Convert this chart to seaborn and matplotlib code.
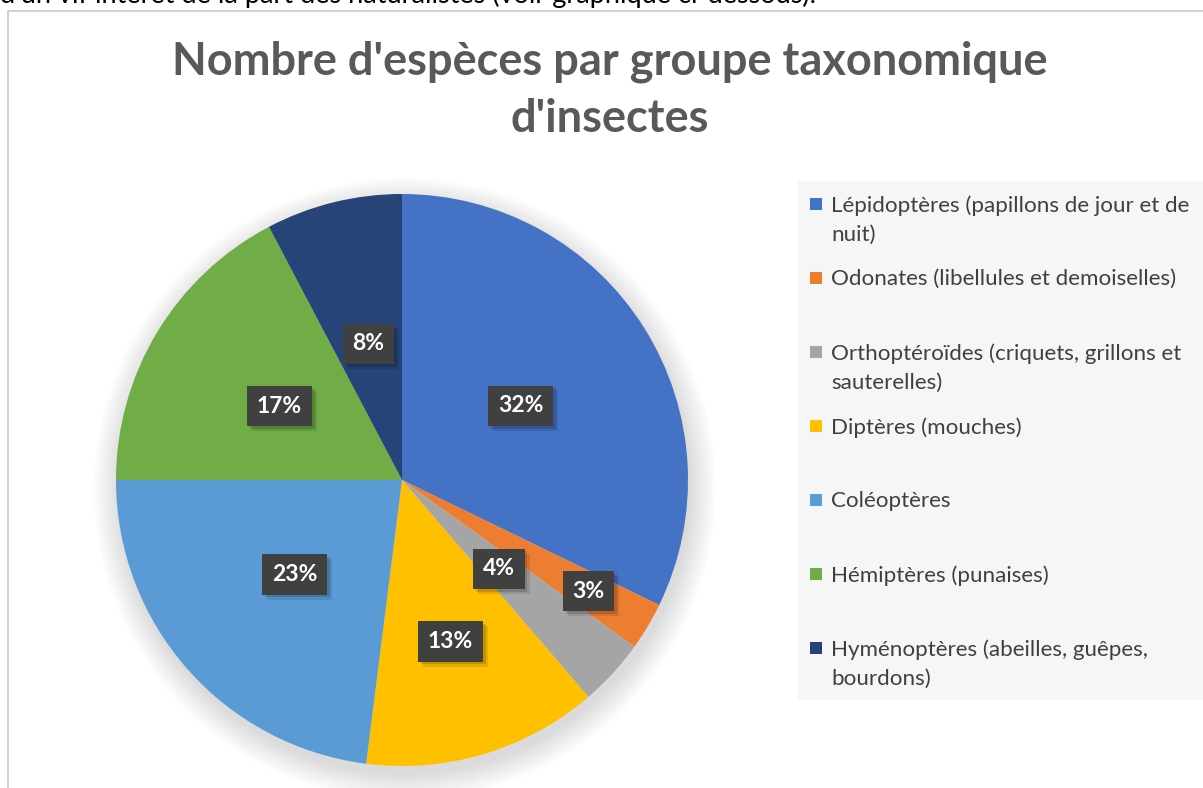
import matplotlib
matplotlib.use("Agg")
import matplotlib.pyplot as plt
import matplotlib.patheffects as pe
from matplotlib.patches import Rectangle, Circle
import seaborn as sns
import numpy as np

# values (percent of species)
groups = ["Lépidoptères (papillons de jour et de\nnuit)",
          "Odonates (libellules et demoiselles)",
          "Orthoptéroïdes (criquets, grillons et\nsauterelles)",
          "Diptères (mouches)",
          "Coléoptères",
          "Hémiptères (punaises)",
          "Hyménoptères (abeilles, guêpes,\nbourdons)"]
shares = [32.2, 2.7, 3.8, 13.3, 23.0, 17.3, 7.7]
pct_labels = ["32%", "3%", "4%", "13%", "23%", "17%", "8%"]
label_dist = [0.49, 0.76, 0.46, 0.59, 0.50, 0.50, 0.49]
colors = ["#4472C4", "#ED7D31", "#A5A5A5", "#FFC000", "#5B9BD5", "#70AD47", "#264478"]

sns.set_theme(style="white")
plt.rcParams['font.family'] = ['Lato', 'DejaVu Sans']
pal = sns.color_palette(colors)

W, H = 1203, 788
fig = plt.figure(figsize=(W/100, H/100), dpi=100)
fig.patch.set_facecolor("white")

# text from the document above the chart (cut off at the top)
fig.text(0.0, 1 - 3/H, "d'un vif intérêt de la part des naturalistes (voir graphique ci-dessous).",
         fontsize=19.5, color="black", va="baseline", ha="left")
# chart frame
fig.add_artist(Rectangle((8/W, -0.1), 1.2, 1 - 11/H + 0.1, transform=fig.transFigure,
                         fill=False, edgecolor="#C8C8C8", lw=1.2, zorder=-1))

fig.text(610/W, 1 - 90/H, "Nombre d'espèces par groupe taxonomique\nd'insectes",
         ha="center", va="center", fontsize=32.5, fontweight="bold", color="#595959",
         linespacing=1.45)

cx, cy, r = 402, 480, 286
ax = fig.add_axes([(cx - 1.1*r)/W, (H - cy - 1.1*r)/H, 2.2*r/W, 2.2*r/H])
ax.axis("off")

# soft shadow under the pie
for k in range(12):
    ax.add_patch(Circle((0.01, -0.03), 1.0 + 0.008*k, color="black", alpha=0.012, lw=0, zorder=0))

wedges, _ = ax.pie(shares, colors=pal, startangle=90, counterclock=False,
                   radius=1.0, wedgeprops=dict(linewidth=0))
ax.set_xlim(-1.1, 1.1)
ax.set_ylim(-1.1, 1.1)
for w in wedges:
    w.set_zorder(2)

box_shadow = [pe.SimplePatchShadow(offset=(3.5, -3.5), shadow_rgbFace="black", alpha=0.10),
              pe.SimplePatchShadow(offset=(2, -2), shadow_rgbFace="black", alpha=0.15),
              pe.Normal()]
for w, lab, d in zip(wedges, pct_labels, label_dist):
    ang = np.deg2rad((w.theta1 + w.theta2) / 2)
    x, y = d*np.cos(ang), d*np.sin(ang)
    t = ax.text(x, y, lab, ha="center", va="center", fontsize=16.5, fontweight="bold",
                color="white", zorder=4,
                bbox=dict(boxstyle="square,pad=0.42", facecolor="#404040", edgecolor="none"))
    t.get_bbox_patch().set_path_effects(box_shadow)

# legend panel
fig.add_artist(Rectangle((798/W, 1 - 700/H), (W - 798)/W, 519/H, transform=fig.transFigure,
                         facecolor="#F6F6F6", edgecolor="none"))
y0, step = 204, 74
for i, (g, c) in enumerate(zip(groups, pal)):
    yy = y0 + i*step
    fig.add_artist(Rectangle((810/W, 1 - (yy + 6)/H), 12/W, 12/H, transform=fig.transFigure,
                             facecolor=c, edgecolor="none"))
    fig.text(831/W, 1 - (yy - 9)/H, g, ha="left", va="top", fontsize=16.1, color="#404040",
             linespacing=1.55)

fig.savefig("out.png", dpi=100)
